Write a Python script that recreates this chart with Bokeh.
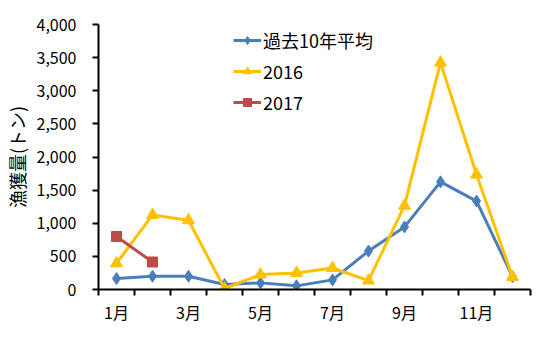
from bokeh.plotting import figure
from bokeh.models import FixedTicker, Legend, LegendItem, Range1d, NumeralTickFormatter
from bokeh.embed import file_html
from bokeh.resources import INLINE

months = list(range(1, 13))
month_labels = {1: "1月", 3: "3月", 5: "5月", 7: "7月", 9: "9月", 11: "11月"}
avg10 = [165, 200, 200, 75, 100, 55, 145, 580, 945, 1625, 1335, 195]
y2016 = [395, 1125, 1045, 15, 225, 250, 325, 135, 1265, 3425, 1735, 190]
months2017 = [1, 2]
y2017 = [800, 415]
y_ticks = [0, 500, 1000, 1500, 2000, 2500, 3000, 3500, 4000]
y_title = "漁獲量(トン)"

FONT = "Noto Sans CJK JP"
BLUE = "#4A7EBB"
GOLD = "#FFC000"
RED = "#BE4B48"

p = figure(width=540, height=348, output_backend="svg", toolbar_location=None,
           x_range=Range1d(0.5, 12.5), y_range=Range1d(0, 4000),
           min_border_left=97, min_border_right=10, min_border_top=24, min_border_bottom=59)
p.outline_line_color = None
p.xgrid.visible = False
p.ygrid.visible = False
p.background_fill_color = "white"
p.border_fill_color = "white"

# y axis
p.yaxis.ticker = FixedTicker(ticks=y_ticks)
p.yaxis.formatter = NumeralTickFormatter(format="0,0")
p.yaxis.axis_line_color = "black"
p.yaxis.axis_line_width = 2
p.yaxis.major_tick_line_color = "black"
p.yaxis.major_tick_line_width = 2
p.yaxis.major_tick_out = 6
p.yaxis.major_tick_in = 0
p.yaxis.minor_tick_line_color = None
p.yaxis.major_label_standoff = 16
p.yaxis.major_label_text_font = FONT
p.yaxis.major_label_text_font_size = "16px"
p.yaxis.major_label_text_color = "black"
p.yaxis.axis_label = y_title
p.yaxis.axis_label_text_font = FONT
p.yaxis.axis_label_text_font_size = "18px"
p.yaxis.axis_label_text_font_style = "normal"
p.yaxis.axis_label_text_color = "black"
p.yaxis.axis_label_standoff = 4

# x axis
p.xaxis.ticker = FixedTicker(ticks=[1, 3, 5, 7, 9, 11],
                             minor_ticks=[m + 0.5 for m in range(0, 13)])
p.xaxis.major_label_overrides = month_labels
p.xaxis.axis_line_color = "black"
p.xaxis.axis_line_width = 2
p.xaxis.major_tick_line_color = None
p.xaxis.major_tick_out = 0
p.xaxis.major_tick_in = 0
p.xaxis.minor_tick_line_color = "black"
p.xaxis.minor_tick_line_width = 2
p.xaxis.minor_tick_out = 6
p.xaxis.minor_tick_in = 0
p.xaxis.major_label_standoff = 4
p.xaxis.major_label_text_font = FONT
p.xaxis.major_label_text_font_size = "16px"
p.xaxis.major_label_text_color = "black"

l1 = p.line(months, avg10, line_color=BLUE, line_width=3)
m1 = p.scatter(months, avg10, marker="diamond", size=12, fill_color=BLUE, line_color=BLUE)
l2 = p.line(months, y2016, line_color=GOLD, line_width=3)
m2 = p.scatter(months, y2016, marker="triangle", size=12, fill_color=GOLD, line_color=GOLD)
l3 = p.line(months2017, y2017, line_color=RED, line_width=3)
m3 = p.scatter(months2017, y2017, marker="square", size=10, fill_color=RED, line_color=RED)

legend = Legend(items=[LegendItem(label="過去10年平均", renderers=[l1, m1]),
                       LegendItem(label="2016", renderers=[l2, m2]),
                       LegendItem(label="2017", renderers=[l3, m3])],
                location=(135, 174), orientation="vertical")
legend.label_text_font = FONT
legend.label_text_font_size = "18px"
legend.label_text_color = "black"
legend.glyph_width = 28
legend.glyph_height = 20
legend.label_height = 20
legend.label_standoff = 2
legend.spacing = 5
legend.padding = 0
legend.margin = 0
legend.border_line_color = None
legend.background_fill_alpha = 0
p.add_layout(legend, "center")

open("out.html", "w").write(file_html(p, INLINE))
